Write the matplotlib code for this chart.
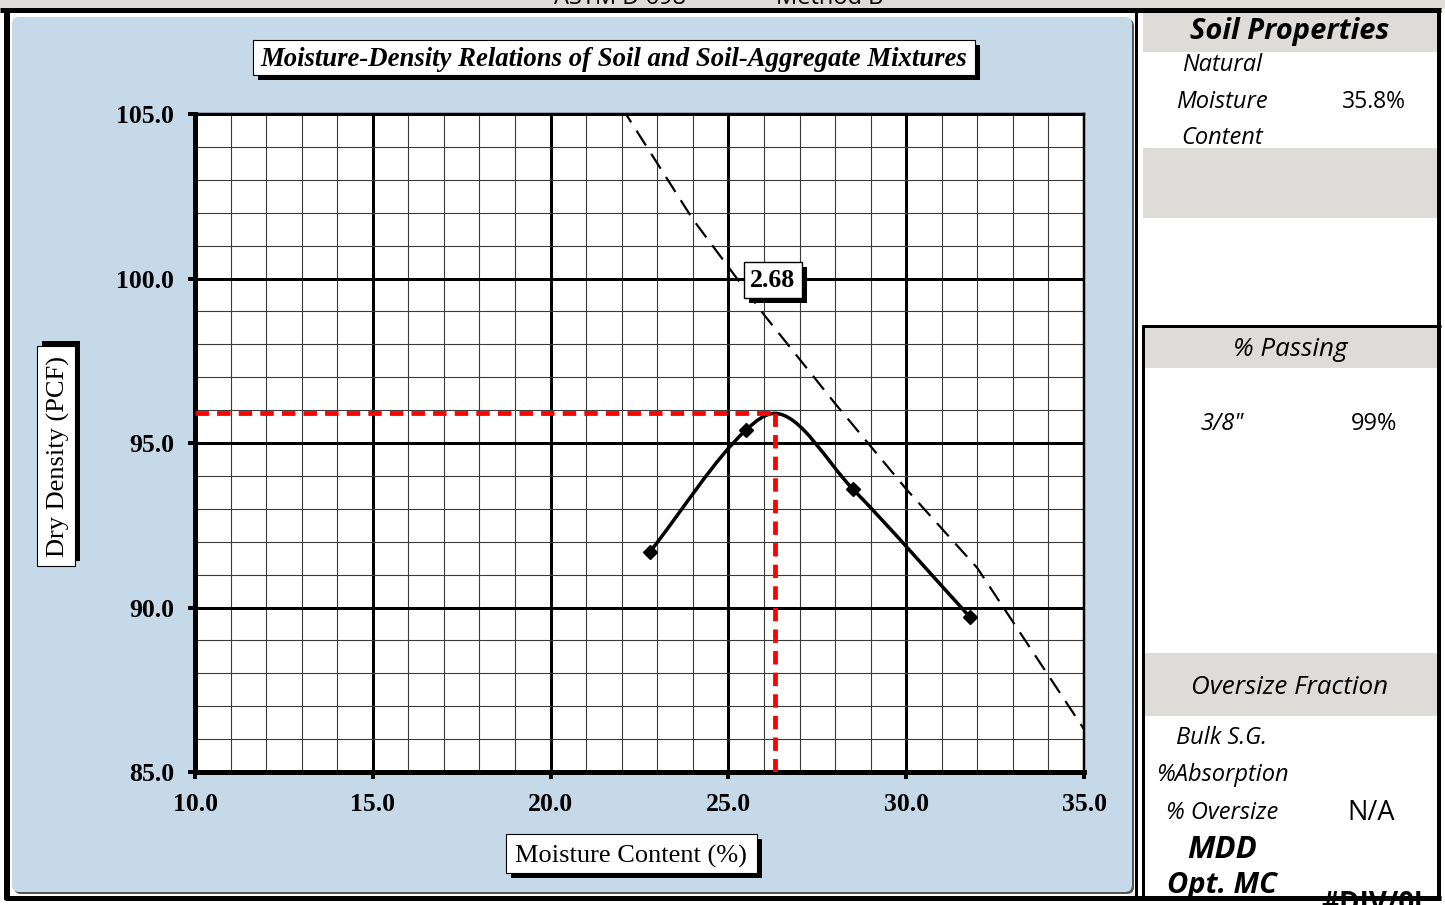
import matplotlib.pyplot as plt
import matplotlib.patheffects as pe
from matplotlib.patches import Rectangle, FancyBboxPatch, PathPatch
from matplotlib.path import Path
import numpy as np

# proctor test points
moisture = [22.8, 25.5, 28.5, 31.8]
dry_density = [91.7, 95.4, 93.6, 89.7]
opt_mc = 26.3
mdd = 95.9

# zero air voids line for Gs = 2.68
zav_moisture = [22.0, 24.0, 26.0, 28.0, 30.0, 32.0, 35.0]
zav_density = [105.2, 101.8, 98.9, 96.2, 93.6, 91.2, 86.3]
gs_label = "2.68"

x_ticks = [10.0, 15.0, 20.0, 25.0, 30.0, 35.0]
y_ticks = [85.0, 90.0, 95.0, 100.0, 105.0]

# side table
natural_mc = "35.8%"
passing_sieve = '3/8"'
passing_value = "99%"
oversize_rows = ["Bulk S.G.", "%Absorption", "% Oversize"]
oversize_value = "N/A"

SERIF = "Liberation Serif"
SANS = "Open Sans"
BLUE = "#c6d9e9"
GREY = "#dddcd8"

fig = plt.figure(figsize=(14.45, 9.05), dpi=100, facecolor="white")

# background axes in pixel coords (y down)
bg = fig.add_axes([0, 0, 1, 1])
bg.set_xlim(0, 1445)
bg.set_ylim(905, 0)
bg.axis("off")


def px(v):
    return v * 0.72


# top strip with clipped heading
bg.add_patch(Rectangle((0, 0), 1445, 9, color=GREY, lw=0))
bg.text(620, 4, "ASTM D 698", family=SANS, fontsize=17, ha="center", va="baseline")
bg.text(830, 4, "Method B", family=SANS, fontsize=17, ha="center", va="baseline")

# blue chart panel
bg.add_patch(FancyBboxPatch((14, 19), 1120, 875, boxstyle="round,pad=0,rounding_size=7",
                            fc="#555555", ec="none"))
bg.add_patch(FancyBboxPatch((12, 17), 1120, 875, boxstyle="round,pad=0,rounding_size=7",
                            fc=BLUE, ec="none"))

# right panel grey bands
for y0, y1 in [(13, 52), (148, 218), (328, 368), (653, 716)]:
    bg.add_patch(Rectangle((1143, y0), 1437 - 1143, y1 - y0, color=GREY, lw=0))

# borders
bg.plot([0, 1441], [10.5, 10.5], color="black", lw=px(5), solid_capstyle="butt")
bg.plot([7, 7], [8, 900], color="black", lw=px(6), solid_capstyle="butt")
bg.plot([5, 1441], [898, 898], color="black", lw=px(5), solid_capstyle="butt")
bg.plot([1136, 1136], [10, 898], color="black", lw=px(3), solid_capstyle="butt")
bg.plot([1439, 1439], [8, 900], color="black", lw=px(4), solid_capstyle="butt")
bg.plot([1143, 1143], [325, 898], color="black", lw=px(3), solid_capstyle="butt")
bg.plot([1142, 1441], [326.5, 326.5], color="black", lw=px(3), solid_capstyle="butt")


def shadow_box(x0, y0, x1, y1, dx=5, dy=5):
    bg.add_patch(Rectangle((x0 + dx, y0 + dy), x1 - x0, y1 - y0, fc="black", ec="none"))
    bg.add_patch(Rectangle((x0, y0), x1 - x0, y1 - y0, fc="white", ec="black", lw=0.8))


shadow_box(253, 40, 975, 75)
bg.text(614, 59.5, "Moisture-Density Relations of Soil and Soil-Aggregate Mixtures",
        family=SERIF, fontsize=19.3, weight="bold", style="italic", ha="center", va="center")

shadow_box(37, 346, 75, 566, dx=5, dy=-5)
bg.text(58.5, 456, "Dry Density (PCF)", family=SERIF, fontsize=19, rotation=90,
        ha="center", va="center")

shadow_box(506, 834, 757, 873)
bg.text(631, 856.5, "Moisture Content (%)", family=SERIF, fontsize=19, ha="center", va="center")

# right panel text
bg.text(1290, 32, "Soil Properties", family=SANS, fontsize=21, weight="bold",
        style="italic", ha="center", va="center")
for label, y in [("Natural", 65), ("Moisture", 102), ("Content", 138)]:
    bg.text(1222, y, label, family=SANS, fontsize=17, style="italic", ha="center", va="center")
bg.text(1374, 102, natural_mc, family=SANS, fontsize=16.5, ha="center", va="center")

bg.text(1290, 349, "% Passing", family=SANS, fontsize=18.7, style="italic", ha="center", va="center")
bg.text(1222, 424, passing_sieve, family=SANS, fontsize=17, style="italic", ha="center", va="center")
bg.text(1374, 424, passing_value, family=SANS, fontsize=17, ha="center", va="center")

bg.text(1290, 687, "Oversize Fraction", family=SANS, fontsize=18.7, style="italic",
        ha="center", va="center")
for label, y in zip(oversize_rows, [738, 775, 813]):
    bg.text(1222, y, label, family=SANS, fontsize=17, style="italic", ha="center", va="center")
bg.text(1371, 813, oversize_value, family=SANS, fontsize=19.5, ha="center", va="center")
bg.text(1222, 850, "MDD", family=SANS, fontsize=22.5, weight="bold", style="italic",
        ha="center", va="center")
bg.text(1222, 885, "Opt. MC", family=SANS, fontsize=21, weight="bold", style="italic",
        ha="center", va="center")
clip = Rectangle((1300, 888), 130, 6, transform=bg.transData)
t = bg.text(1372, 904, "#DIV/0!", family=SANS, fontsize=20, weight="bold",
            ha="center", va="center")
t.set_clip_path(clip)

# main plot
ax = fig.add_axes([195 / 1445, (905 - 772) / 905, (1084 - 195) / 1445, (772 - 114) / 905])
ax.set_facecolor("white")
ax.set_xlim(10, 35)
ax.set_ylim(85, 105)
ax.set_xticks(x_ticks)
ax.set_yticks(y_ticks)
ax.set_xticks(np.arange(10, 36, 1.0), minor=True)
ax.set_yticks(np.arange(85, 106, 1.0), minor=True)
ax.set_xticklabels([f"{v:.1f}" for v in x_ticks], family=SERIF, fontsize=18.5, weight="bold")
ax.set_yticklabels([f"{v:.1f}" for v in y_ticks], family=SERIF, fontsize=18.5, weight="bold")
ax.tick_params(which="major", direction="out", length=5, width=px(4), pad=10)
ax.tick_params(which="minor", length=0)
ax.grid(which="minor", color="#3a3a3a", lw=0.8)
ax.grid(which="major", color="black", lw=px(3))
ax.set_axisbelow(True)
for side in ["left", "bottom"]:
    ax.spines[side].set_linewidth(px(5))
for side in ["top", "right"]:
    ax.spines[side].set_linewidth(px(2.5))

# zero air voids
ax.plot(zav_moisture, zav_density, color="black", lw=px(2.2), dashes=(8, 4.5), zorder=3)


# smooth curve through the points and the peak
def smooth_curve(xs, ys, peak_i):
    xs = np.asarray(xs)
    ys = np.asarray(ys)
    sec = np.diff(ys) / np.diff(xs)
    m = np.zeros(len(xs))
    m[0], m[-1] = sec[0], sec[-1]
    m[1:-1] = (sec[:-1] + sec[1:]) / 2
    m[peak_i] = 0.0
    verts = [(xs[0], ys[0])]
    codes = [Path.MOVETO]
    for i in range(len(xs) - 1):
        h = (xs[i + 1] - xs[i]) / 3
        verts += [(xs[i] + h, ys[i] + m[i] * h),
                  (xs[i + 1] - h, ys[i + 1] - m[i + 1] * h),
                  (xs[i + 1], ys[i + 1])]
        codes += [Path.CURVE4] * 3
    return Path(verts, codes)


cx = sorted(moisture + [opt_mc])
cy = [dict(zip(moisture + [opt_mc], dry_density + [mdd]))[v] for v in cx]
ax.add_patch(PathPatch(smooth_curve(cx, cy, cx.index(opt_mc)), fc="none", ec="black",
                       lw=px(3.5), zorder=4))
ax.plot(moisture, dry_density, ls="none", marker="D", ms=7.5, color="black", zorder=5)

# optimum lines
ax.plot([10, opt_mc], [mdd, mdd], color="red", lw=px(4.8), dashes=(2.8, 1.7), zorder=6)
ax.plot([opt_mc, opt_mc], [85, mdd], color="red", lw=px(4.8), dashes=(2.8, 1.7), zorder=6)

# Gs label with shadow
lbl = ax.text(26.25, 99.95, gs_label, family=SERIF, fontsize=18.5, weight="bold",
              ha="center", va="center", zorder=8,
              bbox=dict(boxstyle="square,pad=0.25", fc="white", ec="black", lw=1))
lbl.get_bbox_patch().set_path_effects([
    pe.SimplePatchShadow(offset=(3.5, -3.5), shadow_rgbFace="black", alpha=1.0),
    pe.Normal()])

fig.savefig("out.png", dpi=100, facecolor="white")
